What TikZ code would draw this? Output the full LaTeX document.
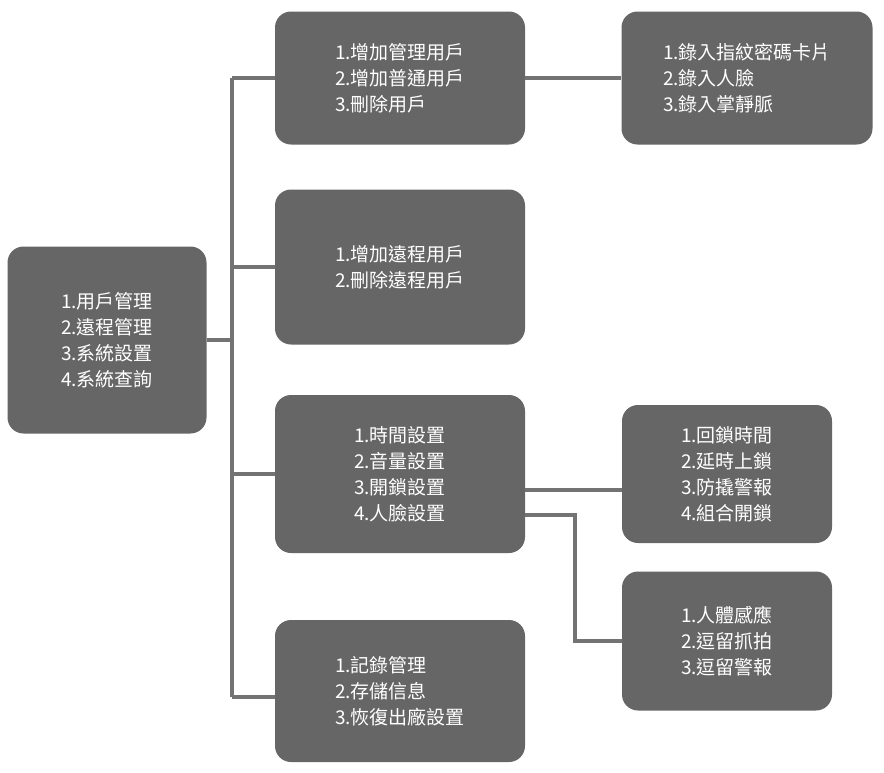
\documentclass[tikz,border=0pt]{standalone}
\usepackage{fontspec}
\setmainfont{Noto Sans CJK TC}
\begin{document}
\begin{tikzpicture}[x=1pt,y=-1pt]
    \tikzset{box/.style={draw=none,fill=black!60,rounded corners=16pt,text=white,align=left,
        font=\fontsize{19}{26}\selectfont,inner sep=0pt},
      link/.style={draw=black!55,line width=3.5pt}}
    \useasboundingbox (0,0) rectangle (884,772);
    % boxes
    \node[box,minimum width=199pt,minimum height=187pt] (root) at (107,340) {1.用戶管理\\2.遠程管理\\3.系統設置\\4.系統查詢};
    \node[box,minimum width=250pt,minimum height=133pt] (user) at (400,78) {1.增加管理用戶\\2.增加普通用戶\\3.刪除用戶};
    \node[box,minimum width=251pt,minimum height=133pt] (enrol) at (747,78) {1.錄入指紋密碼卡片\\2.錄入人臉\\3.錄入掌靜脈};
    \node[box,minimum width=250pt,minimum height=155pt] (remote) at (400,267) {1.增加遠程用戶\\2.刪除遠程用戶};
    \node[box,minimum width=250pt,minimum height=158pt] (setup) at (400,474) {1.時間設置\\2.音量設置\\3.開鎖設置\\4.人臉設置};
    \node[box,minimum width=210pt,minimum height=138pt] (lock) at (727,474) {1.回鎖時間\\2.延時上鎖\\3.防撬警報\\4.組合開鎖};
    \node[box,minimum width=210pt,minimum height=139pt] (face) at (727,641) {1.人體感應\\2.逗留抓拍\\3.逗留警報};
    \node[box,minimum width=250pt,minimum height=142pt] (query) at (400,691) {1.記錄管理\\2.存儲信息\\3.恢復出廠設置};
    % connectors
    \coordinate (top) at (232,78);
    \coordinate (bot) at (232,697);
    \begin{scope}[on background layer/.style={}]
    \draw[link] (root.east) -- (232,340);
    \draw[link] (top) -- (bot);
    \draw[link] (top) -- (user.west);
    \draw[link] (232,267) -- (remote.west);
    \draw[link] (232,474) -- (setup.west);
    \draw[link] (bot) -- (query.west |- bot);
    \draw[link] (user.east) -- (enrol.west);
    \draw[link] (setup.east |- 0,490) -- (lock.west |- 0,490);
    \draw[link] (setup.east |- 0,515) -- (575,515) |- (face.west);
    \end{scope}
\end{tikzpicture}
\end{document}
